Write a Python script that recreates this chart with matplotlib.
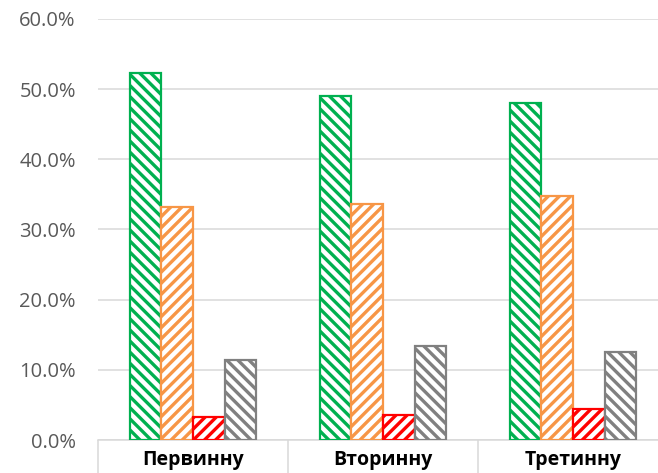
import numpy as np
import matplotlib.pyplot as plt
from matplotlib.ticker import PercentFormatter

plt.rcParams['font.family'] = ['Open Sans', 'DejaVu Sans']
plt.rcParams['hatch.linewidth'] = 2.4

categories = ['Первинну', 'Вторинну', 'Третинну']
green_vals = [52.3, 49.0, 48.0]
orange_vals = [33.2, 33.6, 34.8]
red_vals = [3.3, 3.6, 4.4]
gray_vals = [11.4, 13.4, 12.5]

series = [
    (green_vals, '#00B050', '\\\\\\'),
    (orange_vals, '#F79646', '///'),
    (red_vals, '#FF0000', '///'),
    (gray_vals, '#808080', '\\\\\\'),
]

fig = plt.figure(figsize=(6.58, 4.73), dpi=100)
ax = fig.add_axes([98 / 658, 33 / 473, 570 / 658, 421 / 473])

x = np.arange(len(categories))
w = 0.166
for i, (vals, col, h) in enumerate(series):
    ax.bar(x + (i - 1.5) * w, np.array(vals) / 100, w, facecolor='white',
           edgecolor=col, hatch=h, linewidth=1.6, zorder=3)

ax.set_xlim(-0.5, 2.5)
ax.set_ylim(0, 0.6)
ax.set_yticks(np.arange(0, 0.61, 0.1))
ax.yaxis.set_major_formatter(PercentFormatter(1.0, decimals=1))
ax.grid(axis='y', color='#d9d9d9', linewidth=1.1, zorder=0)

for s in ['top', 'right', 'left']:
    ax.spines[s].set_visible(False)
ax.spines['bottom'].set_color('#d9d9d9')
ax.spines['bottom'].set_linewidth(1.1)

ax.set_xticks(x)
ax.set_xticklabels(categories, fontsize=14, fontweight='bold')
ax.set_xticks([-0.5, 0.5, 1.5, 2.5], minor=True)
ax.tick_params(axis='x', which='major', length=0, pad=7)
ax.tick_params(axis='x', which='minor', length=25, color='#d9d9d9', width=1.1)
ax.tick_params(axis='y', length=0, pad=16, labelsize=14.5, labelcolor='#595959')

fig.savefig('out.png', dpi=100)
